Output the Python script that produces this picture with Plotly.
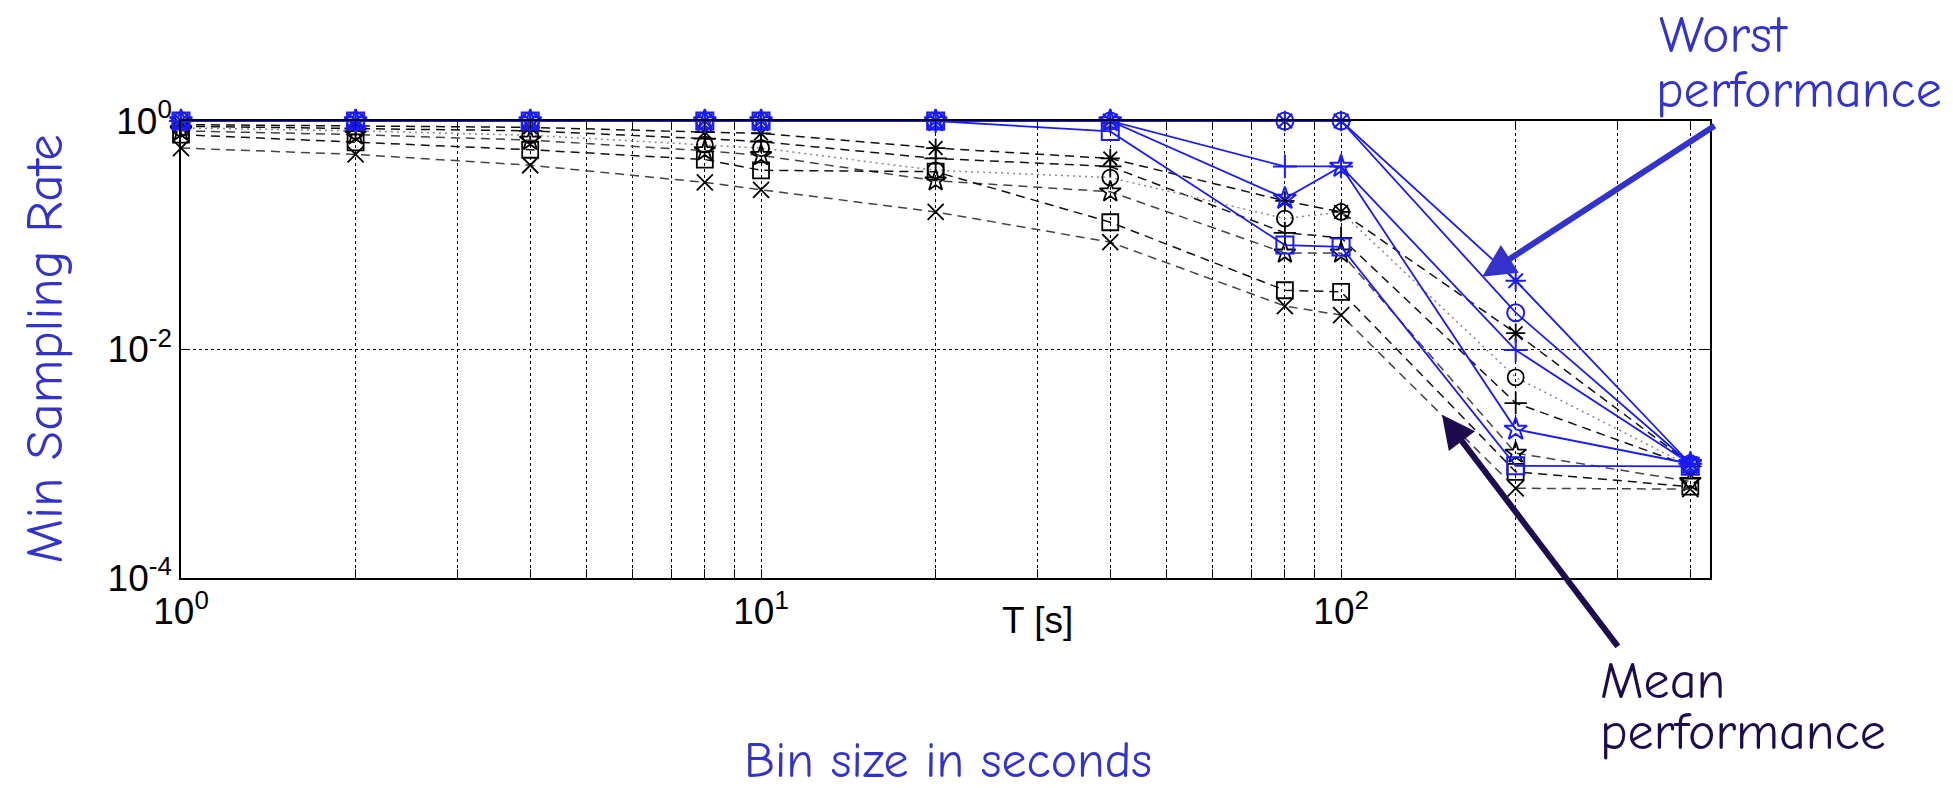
import plotly.graph_objects as go

# ---------------- data ----------------
T = [1, 2, 4, 8, 10, 20, 40, 80, 100, 200, 400]

# worst performance (blue, solid)
worst_circle = [1, 1, 1, 1, 1, 1, 1, 1, 1, 0.021, 0.001]
worst_asterisk = [1, 1, 1, 1, 1, 1, 1, 1, 1, 0.040, 0.001]
worst_plus = [1, 1, 1, 1, 1, 1, 1, 0.40, 0.40, 0.0099, 0.001]
worst_star = [1, 1, 1, 1, 1, 1, 1, 0.21, 0.40, 0.0020, 0.001]
worst_square = [1, 1, 1, 1, 1, 1, 0.81, 0.082, 0.079, 0.00096, 0.00095]

# mean performance (black, dashed)
mean_asterisk = [0.93, 0.90, 0.88, 0.80, 0.78, 0.58, 0.47, 0.20, 0.16, 0.0139, 0.0010]
mean_plus = [0.90, 0.86, 0.82, 0.70, 0.66, 0.47, 0.40, 0.105, 0.095, 0.0034, 0.00095]
mean_circle = [0.87, 0.82, 0.75, 0.62, 0.58, 0.37, 0.32, 0.14, 0.16, 0.0057, 0.00095]
mean_star = [0.82, 0.76, 0.68, 0.55, 0.50, 0.30, 0.24, 0.07, 0.07, 0.00124, 0.0007]
mean_square = [0.76, 0.65, 0.56, 0.46, 0.37, 0.36, 0.13, 0.033, 0.032, 0.00085, 0.00063]
mean_x = [0.58, 0.51, 0.41, 0.29, 0.25, 0.16, 0.087, 0.024, 0.020, 0.00061, 0.0006]

x_tickvals = [1, 10, 100]
x_ticktext = ["10<sup>0</sup>", "10<sup>1</sup>", "10<sup>2</sup>"]
x_minorvals = [2, 3, 4, 5, 6, 7, 8, 9, 20, 30, 40, 50, 60, 70, 80, 90, 200, 300, 400]
y_tickvals = [1e-4, 1e-2, 1]
y_ticktext = ["10<sup>-4</sup>", "10<sup>-2</sup>", "10<sup>0</sup>"]

# ---------------- figure ----------------
fig = go.Figure()

mean_series = [
    (mean_asterisk, "asterisk-open", "#111111", "9px,6px"),
    (mean_plus, "cross-thin-open", "#111111", "9px,6px"),
    (mean_circle, "circle-open", "#888888", "2px,4px"),
    (mean_star, "star-open", "#444444", "9px,6px"),
    (mean_square, "square-open", "#111111", "9px,6px"),
    (mean_x, "x-thin-open", "#444444", "9px,6px"),
]
for y, sym, col, dash in mean_series:
    fig.add_trace(go.Scatter(
        x=T, y=y, mode="lines+markers",
        line=dict(color=col, width=1.5, dash=dash),
        marker=dict(symbol=sym, size=16, color="black", line=dict(color="black", width=1.8)),
        cliponaxis=False, showlegend=False,
    ))

worst_series = [
    (worst_square, "square-open"),
    (worst_star, "star-open"),
    (worst_plus, "cross-thin-open"),
    (worst_asterisk, "asterisk-open"),
    (worst_circle, "circle-open"),
]
for y, sym in worst_series:
    fig.add_trace(go.Scatter(
        x=T, y=y, mode="lines+markers",
        line=dict(color="#1a1aff", width=1.8),
        marker=dict(symbol=sym, size=17, color="#1a1aff", line=dict(color="#1a1aff", width=2)),
        cliponaxis=False, showlegend=False,
    ))

tick_font = dict(family="Liberation Sans, Arial, sans-serif", size=37, color="black")
comic = "Comic Sans MS, Comic Neue, Open Sans, sans-serif"

fig.update_xaxes(
    type="log", range=[0, 2.636],
    tickmode="array", tickvals=x_tickvals, ticktext=x_ticktext, tickfont=tick_font,
    ticks="inside", ticklen=9, tickwidth=1.3, tickcolor="black",
    minor=dict(tickmode="array", tickvals=x_minorvals, ticks="inside", ticklen=9,
               tickwidth=1.3, tickcolor="black", showgrid=True, gridcolor="black",
               griddash="dot", gridwidth=1.2),
    showline=True, linecolor="black", linewidth=1.6, mirror="ticks",
    showgrid=True, gridcolor="black", griddash="dot", gridwidth=1.2,
    zeroline=False,
)
fig.update_yaxes(
    type="log", range=[-4, 0],
    tickmode="array", tickvals=y_tickvals, ticktext=y_ticktext, tickfont=tick_font,
    ticks="inside", ticklen=9, tickwidth=1.3, tickcolor="black",
    showline=True, linecolor="black", linewidth=1.6, mirror="ticks",
    showgrid=True, gridcolor="black", griddash="dot", gridwidth=1.2,
    zeroline=False,
)

blue_txt = "#3333cc"
navy_txt = "#1e0b4f"

annotations = [
    dict(text="T [s]", x=0.56, y=-0.094, xref="paper", yref="paper",
         showarrow=False, font=tick_font, xanchor="center", yanchor="middle"),
    dict(text="Min Sampling Rate", x=-0.0896, y=0.50, xref="paper", yref="paper",
         showarrow=False, textangle=-90, font=dict(family=comic, size=53, color=blue_txt),
         xanchor="center", yanchor="middle"),
    dict(text="Bin size in seconds", x=0.5016, y=-0.40, xref="paper", yref="paper",
         showarrow=False, font=dict(family=comic, size=50, color=blue_txt),
         xanchor="center", yanchor="middle"),
    dict(text="Worst", x=0.9653, y=1.188, xref="paper", yref="paper",
         showarrow=False, font=dict(family=comic, size=52, color=blue_txt),
         xanchor="left", yanchor="middle"),
    dict(text="performance", x=0.9633, y=1.068, xref="paper", yref="paper",
         showarrow=False, font=dict(family=comic, size=52, color=blue_txt),
         xanchor="left", yanchor="middle"),
    dict(text="Mean", x=0.9267, y=-0.2254, xref="paper", yref="paper",
         showarrow=False, font=dict(family=comic, size=52, color=navy_txt),
         xanchor="left", yanchor="middle"),
    dict(text="performance", x=0.9267, y=-0.337, xref="paper", yref="paper",
         showarrow=False, font=dict(family=comic, size=52, color=navy_txt),
         xanchor="left", yanchor="middle"),
    # arrows
    dict(text="", x=0.851, y=0.659, xref="paper", yref="paper", showarrow=True,
         ax=234, ay=-152, arrowcolor=blue_txt, arrowwidth=6, arrowhead=2, arrowsize=1.1),
    dict(text="", x=0.8247, y=0.357, xref="paper", yref="paper", showarrow=True,
         ax=177, ay=233, arrowcolor=navy_txt, arrowwidth=6, arrowhead=2, arrowsize=1.1),
]

fig.update_layout(
    width=1953, height=788, autosize=False,
    margin=dict(l=181, r=243, t=121, b=210),
    plot_bgcolor="white", paper_bgcolor="white",
    annotations=annotations, showlegend=False,
)

fig.write_html("out.html")
